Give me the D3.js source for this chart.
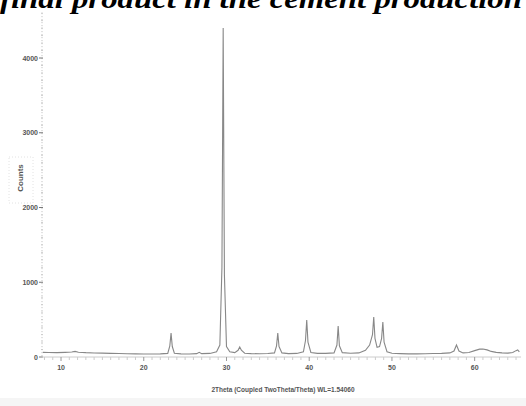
<!DOCTYPE html>
<html>
<head>
<meta charset="utf-8">
<script src="https://cdn.jsdelivr.net/npm/d3@7"></script>
<style>
  body { margin: 0; background: #fff; }
  svg { display: block; }
</style>
</head>
<body>
<div class="chart"></div>
<script>
// pattern: 2theta (deg) and counts
var twoTheta = [7.8, 8.5, 9.5, 10.5, 11.3, 11.7, 12.1, 13.0, 14.0, 15.0, 16.0, 17.0, 18.0, 19.0, 20.0,
  21.0, 22.0, 22.9, 23.15, 23.3, 23.45, 23.7, 24.5, 25.5, 26.4, 26.7, 27.0, 28.0, 28.8, 29.2,
  29.45, 29.6, 29.75, 30.0, 30.4, 31.0, 31.4, 31.6, 31.8, 32.2, 33.0, 34.0, 35.0, 35.8, 36.05,
  36.2, 36.35, 36.7, 37.5, 38.5, 39.3, 39.55, 39.7, 39.85, 40.2, 41.0, 42.0, 43.0, 43.35, 43.5,
  43.65, 44.0, 45.0, 46.0, 46.8, 47.3, 47.65, 47.8, 47.95, 48.2, 48.5, 48.75, 48.9, 49.05, 49.4,
  50.0, 51.0, 52.0, 53.0, 54.0, 55.0, 56.0, 57.0, 57.5, 57.8, 58.1, 58.6, 59.3, 60.0, 60.6,
  61.0, 61.5, 62.0, 62.6, 63.3, 64.0, 64.6, 65.0, 65.2, 65.4];
var counts = [62, 60, 58, 62, 66, 75, 64, 58, 54, 52, 48, 46, 44, 42, 40,
  40, 42, 48, 150, 320, 140, 50, 42, 40, 45, 62, 45, 48, 70, 160,
  1200, 4400, 1100, 140, 70, 58, 90, 134, 90, 50, 45, 44, 46, 55, 150,
  320, 140, 55, 45, 48, 70, 220, 495, 200, 60, 48, 48, 55, 160, 415,
  150, 58, 50, 55, 90, 160, 300, 535, 250, 130, 140, 250, 468, 200, 70,
  50, 45, 42, 42, 44, 46, 48, 55, 80, 160, 80, 55, 60, 85, 105,
  107, 95, 75, 62, 55, 52, 60, 85, 94, 70];

var xTicks = [10, 20, 30, 40, 50, 60];
var yTicks = [0, 1000, 2000, 3000, 4000];

var title = "final product in the cement production";
var xTitle = "2Theta (Coupled TwoTheta/Theta) WL=1.54060";
var yTitle = "Counts";

var w = 526, h = 406;
var svg = d3.select('.chart').append('svg')
  .attr('width', w)
  .attr('height', h);

var x = d3.scaleLinear().domain([7.7, 65.6]).range([42, 521]);
var y = d3.scaleLinear().domain([0, 4000]).range([357, 58]);

// faint band at the bottom
svg.append('rect')
  .attr('x', 0).attr('y', 398).attr('width', w).attr('height', 8)
  .style('fill', '#f5f5f5');

// title, clipped at the top edge like the source
svg.append('text')
  .attr('x', 0)
  .attr('y', 8)
  .attr('textLength', 522)
  .attr('lengthAdjust', 'spacingAndGlyphs')
  .style('font-family', '"Liberation Serif", "Times New Roman", Times, serif')
  .style('font-weight', 'bold')
  .style('font-style', 'italic')
  .style('font-size', '28px')
  .style('fill', '#000')
  .text(title);

// y axis: dotted line with minor ticks
svg.append('line')
  .attr('x1', x(7.7)).attr('x2', x(7.7))
  .attr('y1', y(4600)).attr('y2', y(0))
  .style('stroke', '#bbb')
  .style('stroke-dasharray', '1,2');

var yMinor = d3.range(0, 4700, 100);
svg.selectAll('.yminor').data(yMinor).enter()
  .append('line')
  .attr('class', 'yminor')
  .attr('x1', function(d){ return d % 1000 === 0 ? 39 : 41; })
  .attr('x2', 43)
  .attr('y1', function(d){ return y(d); })
  .attr('y2', function(d){ return y(d); })
  .style('stroke', function(d){ return d % 1000 === 0 ? '#777' : '#ccc'; });

svg.selectAll('.ylab').data(yTicks).enter()
  .append('text')
  .attr('class', 'ylab')
  .attr('x', 38)
  .attr('y', function(d){ return y(d) + 2.5; })
  .attr('text-anchor', 'end')
  .style('font-family', '"Liberation Sans", Arial, sans-serif')
  .style('font-size', '7px')
  .style('font-weight', 'bold')
  .style('fill', '#555')
  .text(function(d){ return d; });

// y title with its faint dotted box
svg.append('rect')
  .attr('x', 9).attr('y', 157).attr('width', 24).attr('height', 46)
  .style('fill', 'none')
  .style('stroke', '#e2e2e2')
  .style('stroke-dasharray', '1,2');

svg.append('text')
  .attr('transform', 'translate(23,178) rotate(-90)')
  .attr('text-anchor', 'middle')
  .style('font-family', '"Liberation Sans", Arial, sans-serif')
  .style('font-size', '8px')
  .style('font-weight', 'bold')
  .style('fill', '#555')
  .text(yTitle);

// x axis
svg.append('line')
  .attr('x1', x(7.7)).attr('x2', x(65.6))
  .attr('y1', y(0)).attr('y2', y(0))
  .style('stroke', '#ccc');

var xMinor = d3.range(8, 66, 1);
svg.selectAll('.xminor').data(xMinor).enter()
  .append('line')
  .attr('class', 'xminor')
  .attr('x1', function(d){ return x(d); })
  .attr('x2', function(d){ return x(d); })
  .attr('y1', y(0))
  .attr('y2', function(d){ return d % 10 === 0 ? y(0) + 4 : y(0) + 3; })
  .style('stroke', function(d){ return d % 10 === 0 ? '#999' : '#ccc'; });

svg.selectAll('.xlab').data(xTicks).enter()
  .append('text')
  .attr('class', 'xlab')
  .attr('x', function(d){ return x(d); })
  .attr('y', 370)
  .attr('text-anchor', 'middle')
  .style('font-family', '"Liberation Sans", Arial, sans-serif')
  .style('font-size', '7px')
  .style('font-weight', 'bold')
  .style('fill', '#555')
  .text(function(d){ return d; });

svg.append('text')
  .attr('x', 283)
  .attr('y', 392)
  .attr('text-anchor', 'middle')
  .style('font-family', '"Liberation Sans", Arial, sans-serif')
  .style('font-size', '6.5px')
  .style('font-weight', 'bold')
  .style('fill', '#555')
  .text(xTitle);

// the pattern
var points = twoTheta.map(function(t, i){ return [t, counts[i]]; });
var line = d3.line()
  .x(function(d){ return x(d[0]); })
  .y(function(d){ return y(d[1]); });

svg.append('path')
  .datum(points)
  .attr('d', line)
  .style('fill', 'none')
  .style('stroke', '#888')
  .style('stroke-width', 1.1);
</script>
</body>
</html>
